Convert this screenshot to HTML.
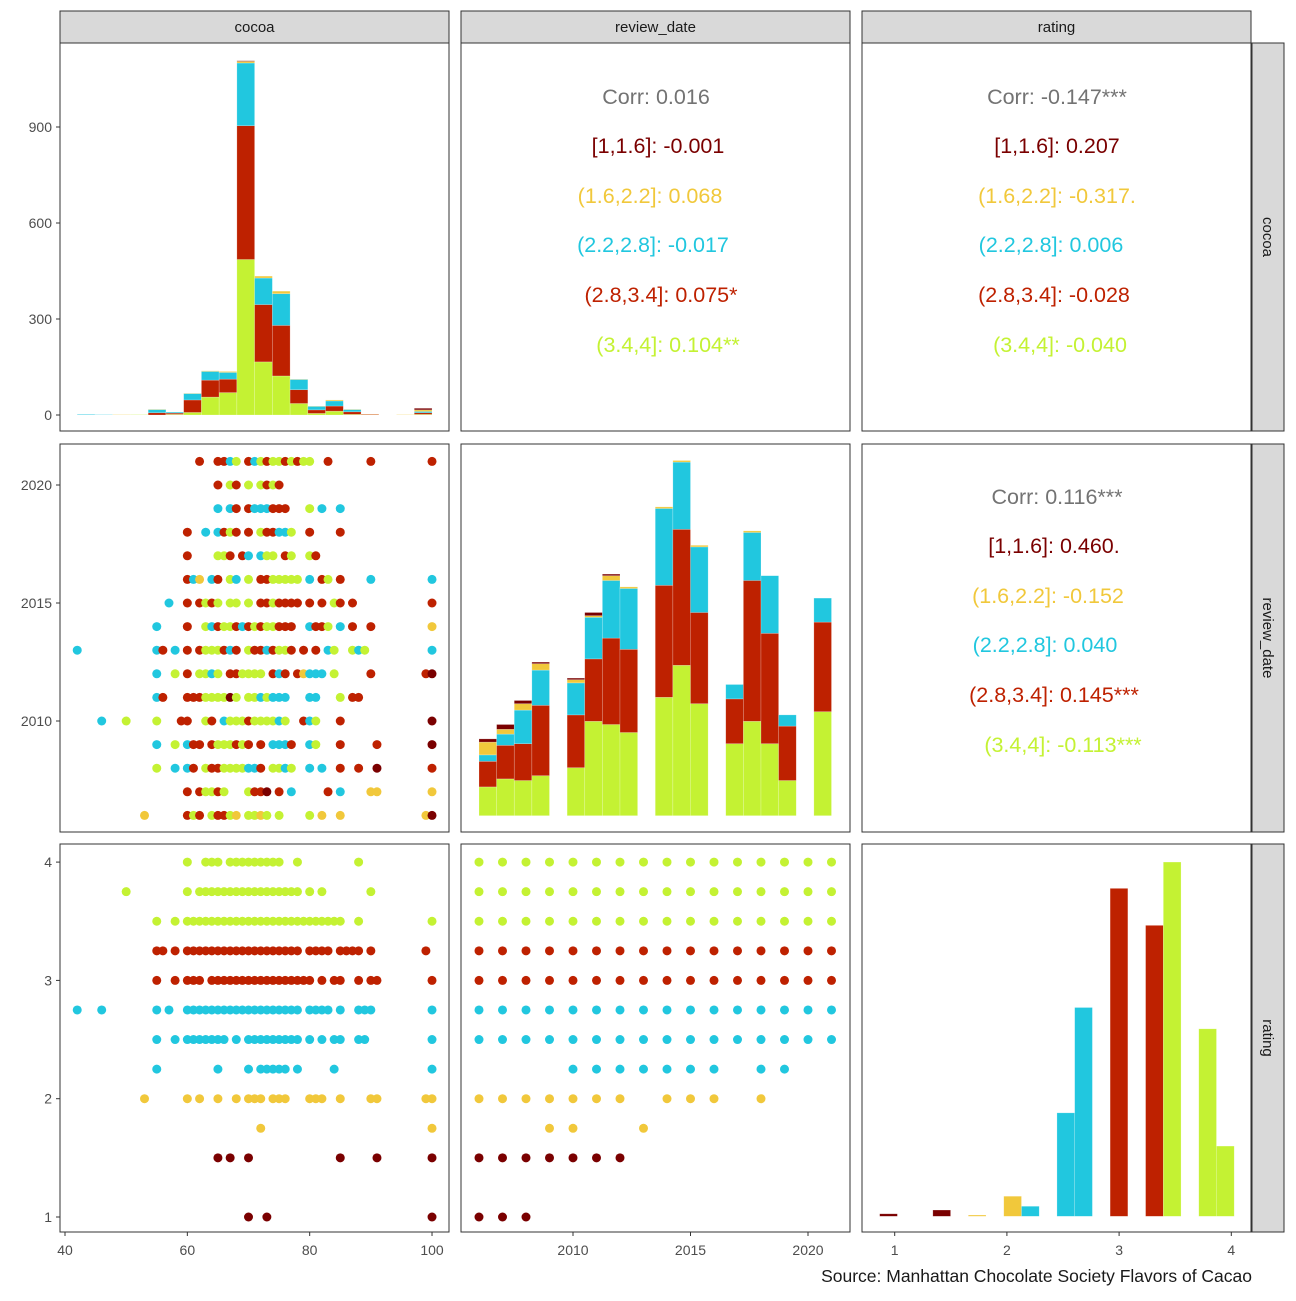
<!DOCTYPE html>
<html><head><meta charset="utf-8"><style>
body{margin:0;background:#fff}
svg text{font-family:"Liberation Sans",sans-serif}
</style></head><body>
<svg id="c" width="1296" height="1296" viewBox="0 0 1296 1296" xmlns="http://www.w3.org/2000/svg"></svg>
<script>
// ---- data ----
const groupCodes = ['d','y','c','r','l'];
const groupColors = {d:'#7A0000',y:'#F1C83B',c:'#21C7DF',r:'#BE2100',l:'#C4F233'};
const varNames = ['cocoa','review_date','rating'];
const cocoaBinStart = 42, cocoaBinWidth = 2.9;
const cocoaLime = [0,0,0,1,0,2,8,56,70,486,166,122,36,5,12,2,0,0,0,2];
const cocoaRed  = [0,0,0,0,7,4,39,53,42,418,179,158,43,11,16,8,2,0,0,5];
const cocoaCyan = [2,1,0,0,10,3,20,27,21,196,83,99,32,11,16,7,0,0,0,4];
const cocoaYel  = [0,0,1,0,1,0,1,2,3,5,6,8,1,1,3,1,1,0,1,5];
const cocoaDark = [0,0,0,0,0,0,0,0,0,2,0,0,0,0,0,0,0,0,0,5];
const yearBinStart = 2006, yearBinWidth = 0.75;
const yrLime = [18,23,22,25,0,30,59,57,52,0,74,94,70,0,45,59,45,22,0,65];
const yrRed  = [16,21,23,44,0,33,39,54,52,0,70,85,57,0,28,88,69,34,0,56];
const yrCyan = [4,7,21,22,0,20,26,36,38,0,48,42,41,0,9,30,36,7,0,15];
const yrYel  = [8,3,4,4,0,2,1,3,1,0,1,1,1,0,0,1,0,0,0,0];
const yrDark = [2,3,2,1,0,1,2,1,0,0,0,0,0,0,0,0,0,0,0,0];
const ratingBinStart = 0.866, ratingBinWidth = 0.158;
const ratingCounts = [4,0,0,10,0,2,0,32,16,0,165,333,0,523,0,464,565,0,299,112];
const ratingBinGroup = ['d','d','d','d','y','y','y','y','c','c','c','c','r','r','r','r','l','l','l','l'];
const scatterYears = [2021,2020,2019,2018,2017,2016,2015,2014,2013,2012,2011,2010,2009,2008,2007,2006];
const scatterCocoa = [
 "62r 65r 66r 67c 68l 70r 71c 72l 73r 74l 75l 76r 77l 78r 79l 80l 83r 90r 100r",
 "65r 67l 68r 70l 72l 73r 74l 75r",
 "65c 67c 68r 70r 71c 72c 73c 74r 75r 76r 80l 82c 85c",
 "60r 63c 65c 66r 67l 68r 70r 72l 73r 74r 75c 76c 77l 80r 85r",
 "60r 65l 66l 67r 69r 70c 72c 73l 74l 76r 77l 80l 81r",
 "60r 61c 62y 64c 65r 67l 68c 70l 72r 73r 74l 75l 76l 77l 78l 80c 82r 83l 85r 90c 100c",
 "57c 60r 62r 63l 64r 65l 67l 68l 70l 72r 73r 74l 75r 76r 77r 78r 80r 82r 84l 85r 87r 100r",
 "55c 60r 63l 64c 65r 66l 67l 68r 69c 70r 71l 72r 73l 74l 75r 76r 77r 80c 81r 82r 83l 85c 87r 90r 100y",
 "42c 55c 56r 58c 60r 62r 63l 64l 65l 66r 67c 68r 70l 71r 72r 73c 74r 75l 76l 77r 79r 81r 83c 84l 87l 88c 89l 100c",
 "55c 58l 60r 62l 63l 64c 65l 67r 68r 69l 70l 71l 72l 74r 75c 76r 78r 79y 80c 81c 82c 84l 90r 99r 100d",
 "55c 56r 60r 61r 62r 63l 64l 65l 66l 67d 68l 70l 71l 72c 73l 74c 75c 76c 80c 81c 85l 87r 88r",
 "46c 50l 55l 59r 60r 63l 64r 66c 67l 68l 69l 70r 71l 72l 73l 74l 75c 76l 79r 80c 81l 85r 100d",
 "55c 58l 60c 61r 62r 64r 65l 66l 67l 68r 69l 70r 72r 74c 75c 76c 77r 80c 81l 85r 91r 100d",
 "55l 58c 60c 61r 63l 64r 65r 66l 67l 68l 69l 70c 71c 72r 74l 75l 76c 77l 80c 82c 85r 88r 91d 100r",
 "60r 62r 63l 64l 65r 66l 70l 71r 72r 73d 75r 77c 83r 85c 90y 91y 100y",
 "53y 60r 61l 62r 64l 65r 66r 67l 68y 70l 71l 72y 73l 75l 80l 82y 85y 99y 100d"
];
const ratingLevels = [4,3.75,3.5,3.25,3,2.75,2.5,2.25,2,1.75,1.5,1];
const ratingLevelGroup = ['l','l','l','r','r','c','c','c','y','y','d','d'];
const cocoaByRating = [
 [60,63,64,65,67,68,69,70,71,72,73,74,75,78,88],
 [50,60,62,63,64,65,66,67,68,69,70,71,72,73,74,75,76,77,78,80,82,90],
 [55,58,60,61,62,63,64,65,66,67,68,69,70,71,72,73,74,75,76,77,78,79,80,81,82,83,84,85,88,100],
 [55,56,58,60,61,62,63,64,65,66,67,68,69,70,71,72,73,74,75,76,77,78,80,81,82,83,85,86,87,88,90,99],
 [55,58,60,61,62,64,65,66,67,68,69,70,71,72,73,74,75,76,77,78,79,80,82,84,85,88,90,91,100],
 [42,46,55,57,60,61,62,63,64,65,66,67,68,69,70,71,72,73,74,75,76,77,78,80,81,82,83,85,88,89,90,100],
 [55,58,60,61,62,63,64,65,66,68,70,71,72,73,74,75,76,77,78,80,82,84,85,88,89,100],
 [55,65,70,72,73,74,75,76,78,84,100],
 [53,60,62,65,68,70,71,72,74,75,76,80,81,82,85,90,91,99,100],
 [72,100],
 [65,67,70,85,91,100],
 [70,73,100]
];
const yearsByRating = [
 [2006,2007,2008,2009,2010,2011,2012,2013,2014,2015,2016,2017,2018,2019,2020,2021],
 [2006,2007,2008,2009,2010,2011,2012,2013,2014,2015,2016,2017,2018,2019,2020,2021],
 [2006,2007,2008,2009,2010,2011,2012,2013,2014,2015,2016,2017,2018,2019,2020,2021],
 [2006,2007,2008,2009,2010,2011,2012,2013,2014,2015,2016,2017,2018,2019,2020,2021],
 [2006,2007,2008,2009,2010,2011,2012,2013,2014,2015,2016,2017,2018,2019,2020,2021],
 [2006,2007,2008,2009,2010,2011,2012,2013,2014,2015,2016,2017,2018,2019,2020,2021],
 [2006,2007,2008,2009,2010,2011,2012,2013,2014,2015,2016,2017,2018,2019,2020,2021],
 [2010,2011,2012,2013,2014,2015,2016,2018,2019],
 [2006,2007,2008,2009,2010,2011,2012,2014,2015,2016,2018],
 [2009,2010,2013],
 [2006,2007,2008,2009,2010,2011,2012],
 [2006,2007,2008]
];
const corrCocoaDate = ["Corr: 0.016","[1,1.6]: -0.001","(1.6,2.2]: 0.068","(2.2,2.8]: -0.017","(2.8,3.4]: 0.075*","(3.4,4]: 0.104**"];
const corrCocoaRating = ["Corr: -0.147***","[1,1.6]: 0.207","(1.6,2.2]: -0.317.","(2.2,2.8]: 0.006","(2.8,3.4]: -0.028","(3.4,4]: -0.040"];
const corrDateRating = ["Corr: 0.116***","[1,1.6]: 0.460.","(1.6,2.2]: -0.152","(2.2,2.8]: 0.040","(2.8,3.4]: 0.145***","(3.4,4]: -0.113***"];
const corrColors = ['#737373','#7A0000','#F1C83B','#21C7DF','#BE2100','#C4F233'];
const cocoaTicks = [40,60,80,100], yearTicks = [2010,2015,2020], ratingTicks = [1,2,3,4], countTicks = [0,300,600,900];

// ---- layout ----
const NS='http://www.w3.org/2000/svg', svg=document.getElementById('c');
function mk(tag,attrs,parent){const e=document.createElementNS(NS,tag);for(const k in attrs)e.setAttribute(k,attrs[k]);(parent||svg).appendChild(e);return e;}
const colX=[60,461,862], rowY=[43,444,844], PW=389, PH=388;
const xCocoa=v=>65+(v-40)*6.117;
const xYear=v=>573+(v-2010)*23.5;
const xRating=v=>894.7+(v-1)*112.2;
const yYear=v=>721-(v-2010)*23.6;
const yRating=v=>1217-(v-1)*118.3;
const yCount1=v=>415-v*0.32;
const yCount2=v=>815.7-v*1.6;
const yCount3=v=>1216.3-v*0.627;

for(let r=0;r<3;r++)for(let c=0;c<3;c++){
  const p=mk('rect',{x:colX[c],y:rowY[r],width:PW,height:PH,fill:'#fff',stroke:'#333','stroke-width':1});
  
  
}
for(let c=0;c<3;c++){
  const s=mk('rect',{x:colX[c],y:11,width:PW,height:32,fill:'#D9D9D9',stroke:'#333','stroke-width':1});
  
  
  const t=mk('text',{x:colX[c]+PW/2,y:32,'text-anchor':'middle','font-size':15,fill:'#1a1a1a'});
  t.textContent=varNames[c];
  
  
}
for(let r=0;r<3;r++){
  const s=mk('rect',{x:1252,y:rowY[r],width:32,height:PH,fill:'#D9D9D9',stroke:'#333','stroke-width':1});
  
  
  const cx=1268, cy=rowY[r]+PH/2;
  const t=mk('text',{x:cx,y:cy+5,'text-anchor':'middle','font-size':15,fill:'#1a1a1a',transform:`rotate(90 ${cx} ${cy})`});
  t.textContent=varNames[r];
  
  
}
function barsStacked(layers,codes,start,w,xf,yf,name){
  for(let i=0;i<layers[0].length;i++){
    let acc=0;
    for(let k=0;k<layers.length;k++){
      const v=layers[k][i]; if(!v) continue;
      const x0=xf(start+i*w), x1=xf(start+(i+1)*w);
      const y0=yf(acc), y1=yf(acc+v); acc+=v;
      const b=mk('rect',{x:x0,y:y1,width:x1-x0,height:y0-y1,fill:groupColors[codes[k]],stroke:'#fff','stroke-opacity':0.35,'stroke-width':0.6});
      
      
    }
  }
}
barsStacked([cocoaLime,cocoaRed,cocoaCyan,cocoaYel,cocoaDark],['l','r','c','y','d'],cocoaBinStart,cocoaBinWidth,xCocoa,yCount1,'cocoa-hist');
barsStacked([yrLime,yrRed,yrCyan,yrYel,yrDark],['l','r','c','y','d'],yearBinStart,yearBinWidth,xYear,yCount2,'review-date-hist');
for(let i=0;i<ratingCounts.length;i++){
  const v=ratingCounts[i]; if(!v) continue;
  const x0=xRating(ratingBinStart+i*ratingBinWidth), x1=xRating(ratingBinStart+(i+1)*ratingBinWidth);
  const b=mk('rect',{x:x0,y:yCount3(v),width:x1-x0,height:yCount3(0)-yCount3(v),fill:groupColors[ratingBinGroup[i]],stroke:'#fff','stroke-opacity':0.35,'stroke-width':0.6});
  
  
}
function pt(x,y,col,name){
  const d=mk('circle',{cx:x,cy:y,r:4.5,fill:col});
  
  
}
scatterYears.forEach((yr,i)=>{
  scatterCocoa[i].split(' ').forEach(tok=>{
    const v=parseFloat(tok), g=tok.slice(-1);
    pt(xCocoa(v),yYear(yr),groupColors[g],'point-cocoa-date');
  });
});
ratingLevels.forEach((rt,i)=>{
  cocoaByRating[i].forEach(v=>pt(xCocoa(v),yRating(rt),groupColors[ratingLevelGroup[i]],'point-cocoa-rating'));
  yearsByRating[i].forEach(v=>pt(xYear(v),yRating(rt),groupColors[ratingLevelGroup[i]],'point-date-rating'));
});
const lineY=[97,146,196,245,295,345];
function corrBlock(lines,cx,top,name,offs){
  lines.forEach((s,i)=>{
    const t=mk('text',{x:cx+offs[i],y:top+lineY[i]+7,'text-anchor':'middle','font-size':21.5,fill:corrColors[i]});
    t.textContent=s;
    
    
  });
}
corrBlock(corrCocoaDate,656,0,'corr-cocoa-date',[0,2,-6,-3,5,12]);
corrBlock(corrCocoaRating,1057,0,'corr-cocoa-rating',[0,0,0,-6,-3,3]);
corrBlock(corrDateRating,1057,400,'corr-date-rating',[0,-3,-9,-12,-3,6]);
function tickX(vals,f,name){vals.forEach(v=>{const x=f(v);
  mk('line',{x1:x,x2:x,y1:1232,y2:1236,stroke:'#333','stroke-width':1});
  const t=mk('text',{x:x,y:1255,'text-anchor':'middle','font-size':14,fill:'#4d4d4d'});t.textContent=v;
  
  });}
function tickY(vals,f,name){vals.forEach(v=>{const y=f(v);
  mk('line',{x1:56,x2:60,y1:y,y2:y,stroke:'#333','stroke-width':1});
  const t=mk('text',{x:52,y:y+5,'text-anchor':'end','font-size':14,fill:'#4d4d4d'});t.textContent=v;
  
  });}
tickX(cocoaTicks,xCocoa,'x-cocoa');tickX(yearTicks,xYear,'x-review-date');tickX(ratingTicks,xRating,'x-rating');
tickY(countTicks,yCount1,'y-count');tickY(yearTicks,yYear,'y-review-date');tickY(ratingTicks,yRating,'y-rating');
const cap=mk('text',{x:1252,y:1282,'text-anchor':'end','font-size':17.5,fill:'#1a1a1a'});
cap.textContent='Source: Manhattan Chocolate Society Flavors of Cacao';


</script>
</body></html>
